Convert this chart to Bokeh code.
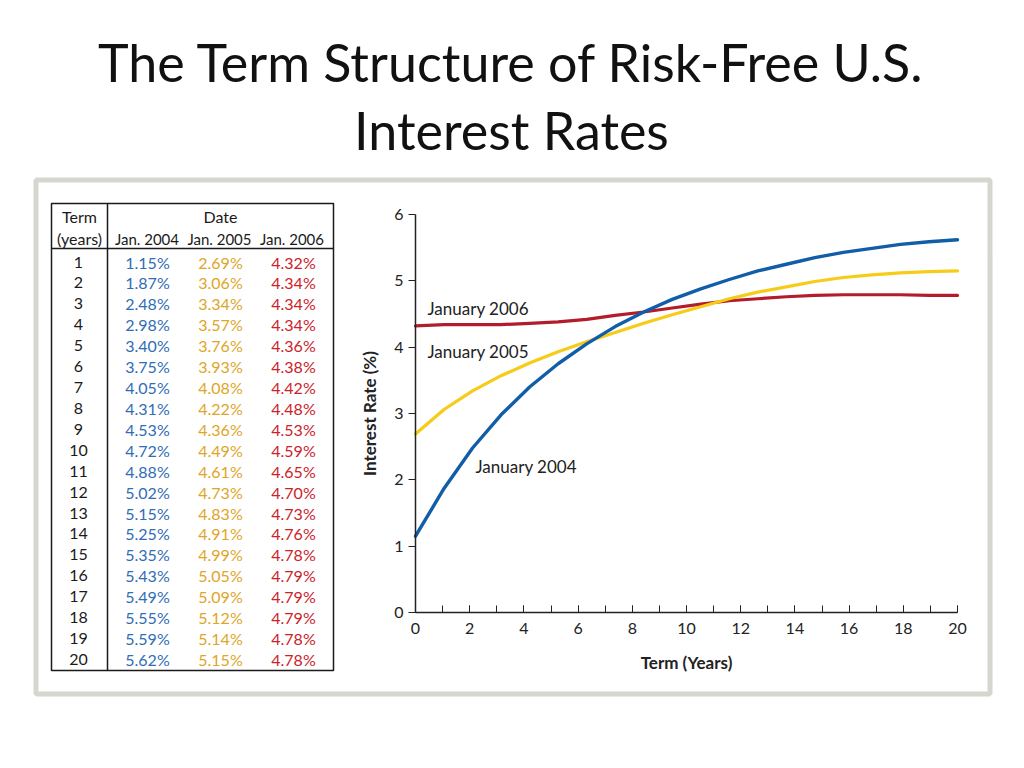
from bokeh.plotting import figure
from bokeh.models import Range1d, LinearAxis, SingleIntervalTicker, ColumnDataSource
from bokeh.core.properties import value
from bokeh.embed import file_html
from bokeh.resources import INLINE

# ---------------- data ----------------
terms = list(range(1, 21))
jan_2004 = [1.15, 1.87, 2.48, 2.98, 3.40, 3.75, 4.05, 4.31, 4.53, 4.72,
            4.88, 5.02, 5.15, 5.25, 5.35, 5.43, 5.49, 5.55, 5.59, 5.62]
jan_2005 = [2.69, 3.06, 3.34, 3.57, 3.76, 3.93, 4.08, 4.22, 4.36, 4.49,
            4.61, 4.73, 4.83, 4.91, 4.99, 5.05, 5.09, 5.12, 5.14, 5.15]
jan_2006 = [4.32, 4.34, 4.34, 4.34, 4.36, 4.38, 4.42, 4.48, 4.53, 4.59,
            4.65, 4.70, 4.73, 4.76, 4.78, 4.79, 4.79, 4.79, 4.78, 4.78]
column_headers = ["Jan. 2004", "Jan. 2005", "Jan. 2006"]
line_labels = ["January 2004", "January 2005", "January 2006"]
title_lines = ["The Term Structure of Risk-Free U.S.", "Interest Rates"]
x_axis_title = "Term (Years)"
y_axis_title = "Interest Rate (%)"

# ---------------- styles ----------------
FONT = value("Lato")
TABLE_COLORS = ["#2f6db5", "#e0a526", "#cc2229"]
LINE_COLORS = ["#115da8", "#f6cc18", "#b31c2b"]
INK = "#1a1a1a"

W, H = 1008, 752
# screen-pixel coordinates (y downwards)
p = figure(width=W, height=H,
           x_range=Range1d(0, W), y_range=Range1d(H, 0),
           x_axis_type=None, y_axis_type=None,
           toolbar_location=None, output_backend="svg",
           min_border=0, outline_line_color=None,
           background_fill_color="white", border_fill_color="white")

# chart ranges mapped onto the canvas
X0_PX, X20_PX = 415, 957
Y0_PX, Y6_PX = 612, 214
kx = (X20_PX - X0_PX) / 20.0
cx_start = -X0_PX / kx
ky = (Y0_PX - Y6_PX) / 6.0
cy_start = -(H - Y0_PX) / ky
p.extra_x_ranges = {"cx": Range1d(cx_start, cx_start + W / kx)}
p.extra_y_ranges = {"cy": Range1d(cy_start, cy_start + H / ky)}

# ---------------- title ----------------
p.text(x=[511, 511], y=[61, 129], text=title_lines,
       text_font=FONT, text_font_size="52px", text_color="#111111",
       text_align="center", text_baseline="middle")

# ---------------- framing box ----------------
p.quad(left=[35.5], right=[989.5], top=[179.5], bottom=[693.5],
       fill_color="white", line_color="#d6d6ce", line_width=5)

# ---------------- table ----------------
TL, TR, TT, TB = 51, 333, 203, 670
TDIV_X, THEAD_Y = 107, 248
p.quad(left=[TL], right=[TR], top=[TT], bottom=[TB],
       fill_color=None, line_color=INK, line_width=1.5)
p.segment(x0=[TDIV_X, TL], y0=[TT, THEAD_Y], x1=[TDIV_X, TR], y1=[TB, THEAD_Y],
          line_color=INK, line_width=1.5)

col_x = [147, 220, 293]
p.text(x=[79, 79], y=[216, 238], text=["Term", "(years)"],
       text_font=FONT, text_font_size="16px", text_color=INK,
       text_align="center", text_baseline="middle")
p.text(x=[220], y=[216], text=["Date"],
       text_font=FONT, text_font_size="16px", text_color=INK,
       text_align="center", text_baseline="middle")
p.text(x=[146.5, 219, 291.5], y=[238] * 3, text=column_headers,
       text_font=FONT, text_font_size="15px", text_color=INK,
       text_align="center", text_baseline="middle")

ROW0_Y, ROW_H = 261.5, (659 - 261.5) / 19
row_y = [ROW0_Y + i * ROW_H for i in range(len(terms))]
p.text(x=[78] * len(terms), y=row_y, text=[str(t) for t in terms],
       text_font=FONT, text_font_size="16px", text_color=INK,
       text_align="center", text_baseline="middle")
for cx, vals, col in zip(col_x, [jan_2004, jan_2005, jan_2006], TABLE_COLORS):
    p.text(x=[cx] * len(vals), y=row_y, text=[f"{v:.2f}%" for v in vals],
           text_font=FONT, text_font_size="16px", text_color=col,
           text_align="center", text_baseline="middle")

# ---------------- chart ----------------
# the chart spreads terms 1..20 across its 0..20 axis
chart_x = [(t - 1) * 20 / 19 for t in terms]
src = ColumnDataSource(dict(x=chart_x, a=jan_2004, b=jan_2005, c=jan_2006))
for col, color, w in zip(["c", "b", "a"], [LINE_COLORS[2], LINE_COLORS[1], LINE_COLORS[0]], [3.2, 3.2, 3.4]):
    p.line("x", col, source=src, x_range_name="cx", y_range_name="cy",
           line_color=color, line_width=w, line_join="round", line_cap="round")

p.text(x=[475, 427, 427], y=[466, 351, 308], text=line_labels,
       text_font=FONT, text_font_size="17px", text_color="#222222",
       text_align="left", text_baseline="middle")

xax = LinearAxis(x_range_name="cx", y_range_name="cy", fixed_location=0,
                 bounds=(0, 20),
                 ticker=SingleIntervalTicker(interval=2, num_minor_ticks=2),
                 axis_label=x_axis_title)
xax.axis_line_color = "#222222"
xax.axis_line_width = 1.5
xax.major_tick_in = 7
xax.major_tick_out = 0
xax.minor_tick_in = 7
xax.minor_tick_out = 0
xax.major_tick_line_color = "#222222"
xax.minor_tick_line_color = "#222222"
xax.major_label_standoff = 10
xax.major_label_text_font = "Lato"
xax.major_label_text_font_size = "16px"
xax.major_label_text_color = "#222222"
xax.axis_label_text_font = "Lato"
xax.axis_label_text_font_size = "17px"
xax.axis_label_text_font_style = "bold"
xax.axis_label_text_color = "#222222"
xax.axis_label_standoff = 15
p.add_layout(xax, "below")

yax = LinearAxis(x_range_name="cx", y_range_name="cy", fixed_location=0,
                 bounds=(0, 6),
                 ticker=SingleIntervalTicker(interval=1, num_minor_ticks=0),
                 axis_label=y_axis_title)
yax.axis_line_color = "#222222"
yax.axis_line_width = 1.5
yax.major_tick_in = 0
yax.major_tick_out = 7
yax.minor_tick_line_color = None
yax.major_tick_line_color = "#222222"
yax.major_label_standoff = 5
yax.major_label_text_font = "Lato"
yax.major_label_text_font_size = "16px"
yax.major_label_text_color = "#222222"
yax.axis_label_text_font = "Lato"
yax.axis_label_text_font_size = "17px"
yax.axis_label_text_font_style = "bold"
yax.axis_label_text_color = "#222222"
yax.axis_label_standoff = 11
p.add_layout(yax, "left")

open("out.html", "w").write(file_html(p, INLINE))
